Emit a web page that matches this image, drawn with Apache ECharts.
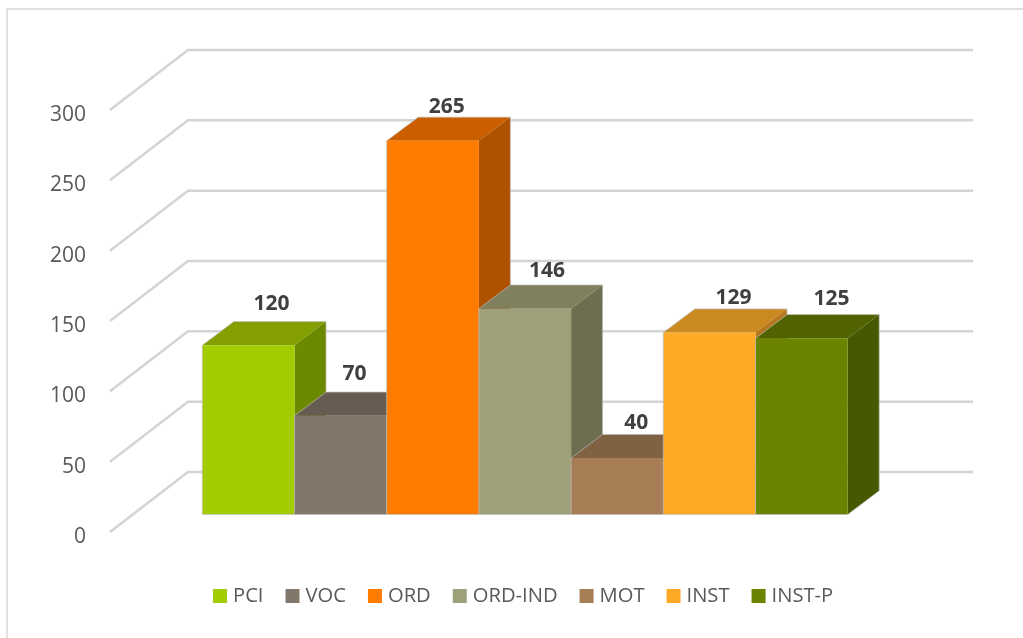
<!DOCTYPE html>
<html>
<head>
<meta charset="utf-8">
<title>3D bars</title>
<style>
  html, body { margin: 0; padding: 0; background: #fff; }
  #main { width: 1023px; height: 638px; }
</style>
<script src="https://cdn.jsdelivr.net/npm/echarts@6/dist/echarts.min.js"></script>
</head>
<body>
<div id="main"></div>
<script>
"use strict";
// chart data
var categories = ["PCI", "VOC", "ORD", "ORD-IND", "MOT", "INST", "INST-P"];
var values = [120, 70, 265, 146, 40, 129, 125];
var axisTicks = [0, 50, 100, 150, 200, 250, 300];

// face colours, same order as categories
var frontColors = ["#a2cc00", "#83776b", "#ff7c00", "#9da078", "#a67d55", "#ffa927", "#6b8400"];
var topColors = ["#84a000", "#675c51", "#cb5f00", "#807f5e", "#806141", "#cb8a20", "#516300"];
var sideColors = ["#6b8a00", "#5a5047", "#ae5200", "#6d6d4f", "#6e5338", "#b5771b", "#465900"];

// the data labels were moved by hand in the original, so they sit off centre
var labelNudge = [[23, -41], [14, -42], [14, -34], [22, -38], [19, -35], [24, -35], [30, -39]];

// oblique projection of the box
var BAR_DX = 31.5, BAR_DY = 23.7;
var WALL_DX = 78, WALL_DY = 60, WALL_LEN = 785;
// axis labels sit a bit under the end of their wall line
var LABEL_DROP = 5;

var myChart = echarts.init(document.getElementById("main"), null, { renderer: "canvas" });

function renderWall(params, api) {
  var p = api.coord([0, api.value(1)]);
  var y = p[1] - LABEL_DROP;
  return {
    type: "polyline",
    silent: true,
    shape: {
      points: [
        [p[0], y],
        [p[0] + WALL_DX, y - WALL_DY],
        [p[0] + WALL_DX + WALL_LEN, y - WALL_DY],
      ],
    },
    style: { stroke: "#d4d4d4", lineWidth: 2.5, fill: null },
  };
}

function renderBar(params, api) {
  var i = params.seriesIndex - 1;
  var top = api.coord([api.value(0), api.value(1)]);
  var base = api.coord([api.value(0), 0]);
  var w = api.size([1, 0])[0];
  var x0 = top[0] - w / 2;
  var x1 = top[0] + w / 2;
  var y0 = top[1];
  var y1 = base[1];
  return {
    type: "group",
    children: [
      {
        type: "polygon",
        shape: { points: [[x0, y0], [x0 + BAR_DX, y0 - BAR_DY], [x1 + BAR_DX, y0 - BAR_DY], [x1, y0]] },
        style: { fill: topColors[i] },
      },
      {
        type: "polygon",
        shape: { points: [[x1, y0], [x1 + BAR_DX, y0 - BAR_DY], [x1 + BAR_DX, y1 - BAR_DY], [x1, y1]] },
        style: { fill: sideColors[i] },
      },
      {
        type: "rect",
        shape: { x: x0, y: y0, width: x1 - x0, height: y1 - y0 },
        style: { fill: frontColors[i] },
      },
      {
        // thin light edge round the box
        type: "polygon",
        shape: {
          points: [[x0, y1], [x0, y0], [x0 + BAR_DX, y0 - BAR_DY], [x1 + BAR_DX, y0 - BAR_DY], [x1 + BAR_DX, y1 - BAR_DY], [x1, y1]],
        },
        style: { fill: null, stroke: "rgba(190,190,190,0.7)", lineWidth: 1 },
      },
      {
        type: "text",
        z2: 100,
        style: {
          text: String(values[i]),
          x: top[0] + labelNudge[i][0],
          y: y0 + labelNudge[i][1],
          align: "center",
          verticalAlign: "middle",
          fill: "#404040",
          font: "bold 21px 'Open Sans'",
        },
      },
    ],
  };
}

var series = [
  {
    type: "custom",
    name: "wall",
    xAxisIndex: 0,
    yAxisIndex: 0,
    silent: true,
    renderItem: renderWall,
    encode: { x: 0, y: 1 },
    data: axisTicks.map(function (t) {
      return [0, t];
    }),
  },
];
categories.forEach(function (name, i) {
  series.push({
    type: "custom",
    name: name,
    xAxisIndex: 1,
    yAxisIndex: 1,
    renderItem: renderBar,
    encode: { x: 0, y: 1 },
    itemStyle: { color: frontColors[i] },
    data: [[name, values[i]]],
  });
});

var option = {
  animation: false,
  backgroundColor: "#fff",
  graphic: [
    {
      type: "polyline",
      silent: true,
      z: -1,
      shape: { points: [[7, 638], [7, 9], [1023, 9]] },
      style: { stroke: "#e0e0e0", lineWidth: 2, fill: null },
    },
  ],
  legend: {
    left: 208,
    top: 581,
    itemWidth: 14,
    itemHeight: 14,
    itemGap: 22,
    icon: "rect",
    data: categories,
    textStyle: { color: "#595959", fontFamily: "Open Sans", fontSize: 20.2, padding: [0, 0, 0, 1] },
  },
  grid: [
    // front plane of the walls, carries the axis labels
    { left: 110, top: 110 + LABEL_DROP, width: 785, height: 422 },
    // front plane of the bars
    { left: 202.3, top: 91.5, width: 645.4, height: 423 },
  ],
  xAxis: [
    { type: "value", gridIndex: 0, min: 0, max: 1, show: false },
    { type: "category", gridIndex: 1, data: categories, show: false },
  ],
  yAxis: [
    {
      type: "value",
      gridIndex: 0,
      min: 0,
      max: 300,
      interval: 50,
      axisLine: { show: false },
      axisTick: { show: false },
      splitLine: { show: false },
      axisLabel: { margin: 24, color: "#595959", fontFamily: "Open Sans", fontSize: 21 },
    },
    { type: "value", gridIndex: 1, min: 0, max: 300, show: false },
  ],
  series: series,
};

option && myChart.setOption(option);
</script>
</body>
</html>
